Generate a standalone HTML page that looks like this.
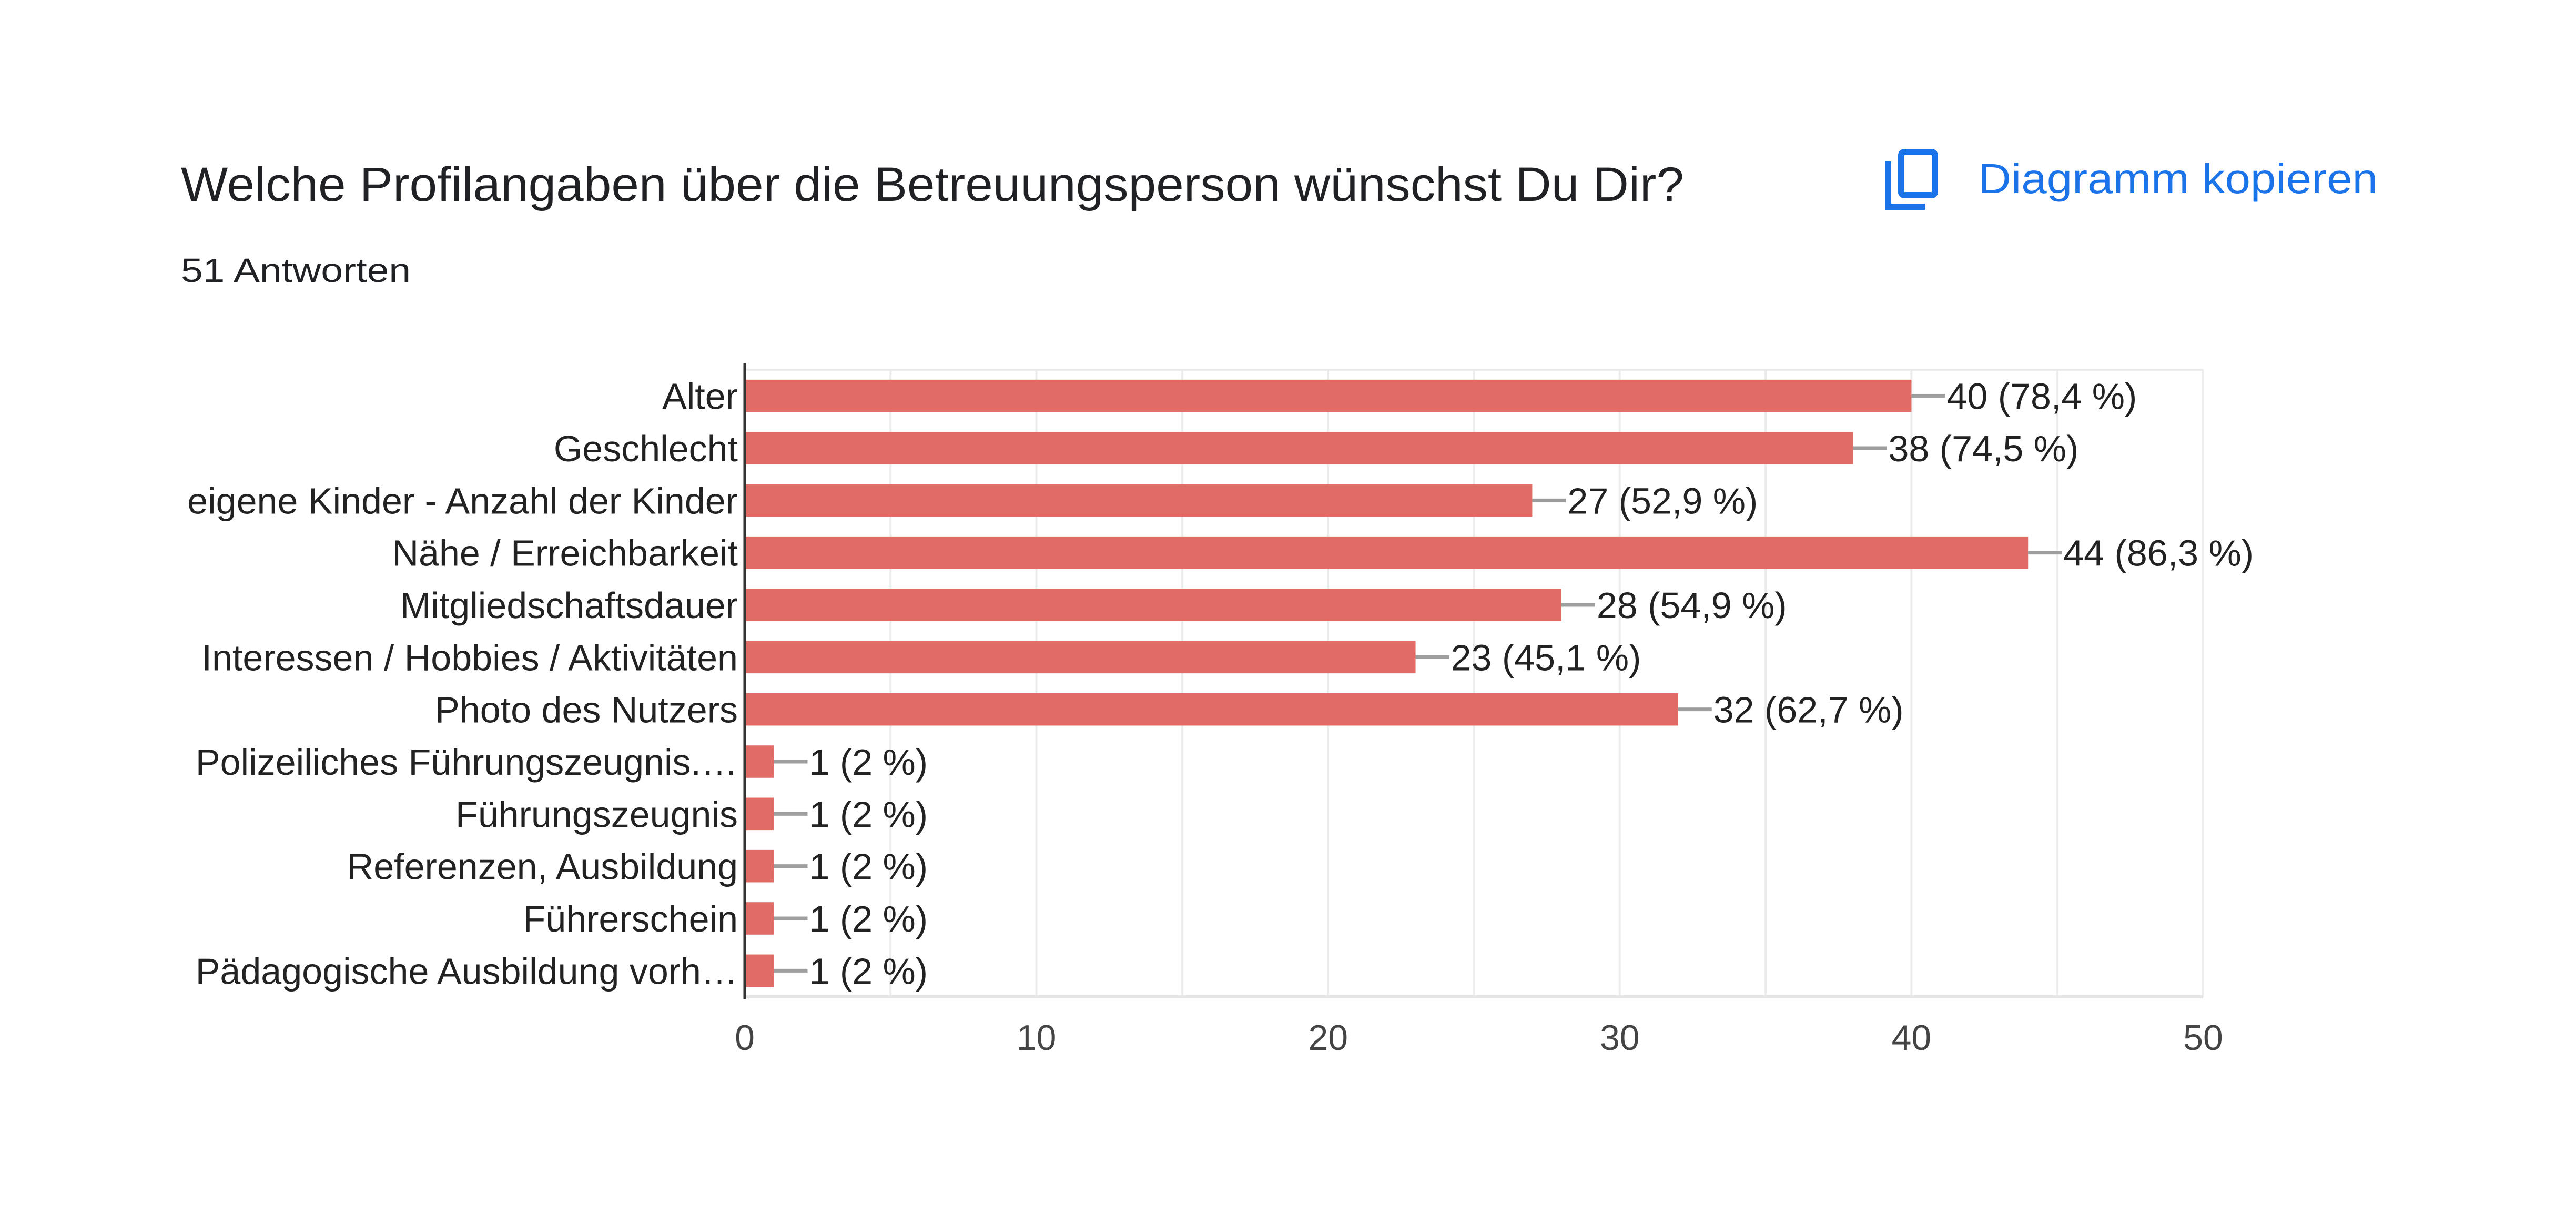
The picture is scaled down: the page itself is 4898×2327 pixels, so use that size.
<!DOCTYPE html>
<html><head><meta charset="utf-8"><style>
html,body{margin:0;padding:0;background:#fff;}
svg{display:block;font-family:"Liberation Sans",Arial,sans-serif;}
</style></head><body>
<svg id="chart" width="4898" height="2327" viewBox="0 0 4898 2327" xmlns="http://www.w3.org/2000/svg">
<rect width="4898" height="2327" fill="#fff"/>
<text x="344" y="382" font-size="92" fill="#202124" textLength="2858" lengthAdjust="spacingAndGlyphs">Welche Profilangaben über die Betreuungsperson wünschst Du Dir?</text>
<text x="344" y="536" font-size="64" fill="#202124" textLength="437" lengthAdjust="spacingAndGlyphs">51 Antworten</text>
<g>
<path d="M3590 307 V393 H3660" fill="none" stroke="#1a73e8" stroke-width="12"/>
<rect x="3615" y="289" width="64" height="82" rx="6" fill="none" stroke="#1a73e8" stroke-width="12"/>
<text x="3761" y="367" font-size="80" fill="#1a73e8" textLength="760" lengthAdjust="spacingAndGlyphs">Diagramm kopieren</text>
</g>
<g id="grid"></g>
<g id="bars"></g>
<g id="labels"></g>
<g id="ticks"></g>
</svg>
<script>
const categories = ["Alter","Geschlecht","eigene Kinder - Anzahl der Kinder","Nähe / Erreichbarkeit","Mitgliedschaftsdauer","Interessen / Hobbies / Aktivitäten","Photo des Nutzers","Polizeiliches Führungszeugnis.…","Führungszeugnis","Referenzen, Ausbildung","Führerschein","Pädagogische Ausbildung vorh…"];
const counts = [40,38,27,44,28,23,32,1,1,1,1,1];
const percents = ["78,4","74,5","52,9","86,3","54,9","45,1","62,7","2","2","2","2","2"];
const tickValues = [0,10,20,30,40,50];
const gridValues = [5,15,25,35,45];

const NS = "http://www.w3.org/2000/svg";
const X0 = 1416, XMAX = 50, X1 = 4189;
const TOP = 703, BOTTOM = 1895;
const pitch = (BOTTOM - TOP) / categories.length;
const barH = pitch * 0.62;
function xs(v){ return X0 + (X1 - X0) * v / XMAX; }
function yc(i){ return TOP + pitch * (i + 0.5); }
function mk(tag, attrs, parent){
  const e = document.createElementNS(NS, tag);
  for (const k in attrs) e.setAttribute(k, attrs[k]);
  parent.appendChild(e);
  return e;
}
const grid = document.getElementById('grid');
const bars = document.getElementById('bars');
const labels = document.getElementById('labels');
const ticks = document.getElementById('ticks');

// gridlines
gridValues.concat(tickValues.slice(1)).forEach(v => {
  const l = mk('line', {x1: xs(v), x2: xs(v), y1: TOP, y2: BOTTOM, stroke: '#ececec', 'stroke-width': 4}, grid);
  
  
});
const tb = mk('line', {x1: X0, x2: X1, y1: TOP, y2: TOP, stroke: '#ececec', 'stroke-width': 4}, grid);


const bb = mk('line', {x1: X0, x2: X1, y1: BOTTOM, y2: BOTTOM, stroke: '#e6e6e6', 'stroke-width': 6}, grid);



categories.forEach((c, i) => {
  const y = yc(i);
  const r = mk('rect', {x: X0, y: y - barH/2, width: xs(counts[i]) - X0, height: barH, fill: '#e06c65'}, bars);
  
  
  const ln = mk('line', {x1: xs(counts[i]), x2: xs(counts[i]) + 64, y1: y, y2: y, stroke: '#9e9e9e', 'stroke-width': 7}, bars);
  
  
  const vt = mk('text', {x: xs(counts[i]) + 67, y: y + 25, 'font-size': 70, fill: '#222'}, labels);
  vt.textContent = counts[i] + ' (' + percents[i] + ' %)';
  
  
  const ct = mk('text', {x: 1403, y: y + 25, 'font-size': 70, fill: '#222', 'text-anchor': 'end'}, labels);
  ct.textContent = c;
  
  
});

const ax = mk('line', {x1: X0, x2: X0, y1: TOP - 12, y2: BOTTOM + 4, stroke: '#333', 'stroke-width': 5}, ticks);


tickValues.forEach(v => {
  const t = mk('text', {x: xs(v), y: 1996, 'font-size': 68, fill: '#444', 'text-anchor': 'middle'}, ticks);
  t.textContent = v;
  
  
});
</script>
</body></html>
